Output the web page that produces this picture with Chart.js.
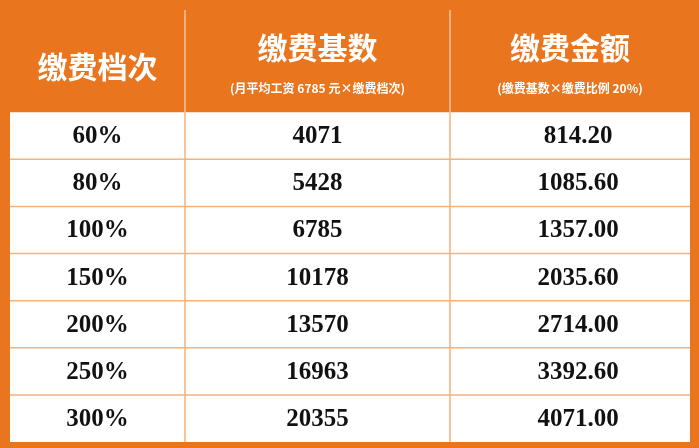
<!DOCTYPE html>
<html><head><meta charset="utf-8">
<script src="https://cdn.jsdelivr.net/npm/chart.js@4/dist/chart.umd.min.js"></script>
<style>html,body{margin:0;padding:0;background:#fff}#c{display:block}</style>
</head><body>
<canvas id="c" width="699" height="448"></canvas>
<script>
var headers = ['缴费档次', '缴费基数', '缴费金额'];
var subHeaders = ['', '(月平均工资 6785 元×缴费档次)', '(缴费基数×缴费比例 20%)'];
var levels = ['60%', '80%', '100%', '150%', '200%', '250%', '300%'];
var bases = ['4071', '5428', '6785', '10178', '13570', '16963', '20355'];
var amounts = ['814.20', '1085.60', '1357.00', '2035.60', '2714.00', '3392.60', '4071.00'];

// table geometry in scale units
var colEdges = [0, 175, 440, 680];
var headerH = 102, rowH = 47;
var orange = '#E9761F';

var tablePlugin = {
  id: 'table',
  afterDraw: function(chart) {
    var ctx = chart.ctx, xs = chart.scales.x, ys = chart.scales.y;
    var X = function(v){ return xs.getPixelForValue(v); };
    var Y = function(v){ return ys.getPixelForValue(v); };
    var bottom = headerH + rowH * levels.length;
    ctx.save();
    // outer frame
    ctx.fillStyle = orange;
    ctx.fillRect(0, 0, chart.width, chart.height);
    ctx.fillStyle = '#fff';
    ctx.fillRect(X(0), Y(headerH), X(680) - X(0), Y(bottom) - Y(headerH));
    // grid lines
    ctx.strokeStyle = '#F3B27E';
    ctx.lineWidth = 1.5;
    for (var i = 1; i < levels.length; i++) {
      var y = Y(headerH + rowH * i);
      ctx.beginPath(); ctx.moveTo(X(0), y); ctx.lineTo(X(680), y); ctx.stroke();
    }
    for (var j = 1; j < colEdges.length - 1; j++) {
      ctx.beginPath(); ctx.moveTo(X(colEdges[j]), Y(headerH)); ctx.lineTo(X(colEdges[j]), Y(bottom)); ctx.stroke();
    }
    // header separators
    ctx.strokeStyle = '#F6C39A';
    for (var j = 1; j < colEdges.length - 1; j++) {
      ctx.beginPath(); ctx.moveTo(X(colEdges[j]), Y(0)); ctx.lineTo(X(colEdges[j]), Y(headerH)); ctx.stroke();
    }
    // header text
    ctx.fillStyle = '#fff';
    ctx.textAlign = 'center'; ctx.textBaseline = 'middle';
    for (var j = 0; j < headers.length; j++) {
      var cx = (X(colEdges[j]) + X(colEdges[j + 1])) / 2;
      if (subHeaders[j]) {
        ctx.font = 'bold 30px "Noto Sans CJK SC"';
        ctx.fillText(headers[j], cx, Y(38));
        ctx.font = 'bold 12px "Noto Sans CJK SC"';
        ctx.fillText(subHeaders[j], cx, Y(78));
      } else {
        ctx.font = 'bold 30px "Noto Sans CJK SC"';
        ctx.fillText(headers[j], cx, Y(56));
      }
    }
    // body text
    ctx.fillStyle = '#111';
    ctx.font = 'bold 25px "Liberation Serif"';
    var cols = [levels, bases, amounts];
    for (var i = 0; i < levels.length; i++) {
      var cy = Y(headerH + rowH * i + rowH / 2);
      for (var j = 0; j < cols.length; j++) {
        var cx = (X(colEdges[j]) + X(colEdges[j + 1])) / 2;
        ctx.fillText(cols[j][i], cx + (j === 2 ? 8 : 0), cy + 1);
      }
    }
    ctx.restore();
  }
};

new Chart(document.getElementById('c').getContext('2d'), {
  type: 'scatter',
  data: { datasets: [{ data: [] }] },
  options: {
    responsive: false,
    animation: false,
    layout: { padding: { left: 10, right: 9, top: 10, bottom: 6 } },
    plugins: { legend: { display: false }, tooltip: { enabled: false } },
    scales: {
      x: { type: 'linear', min: 0, max: 680, display: false },
      y: { type: 'linear', min: 0, max: headerH + rowH * levels.length, reverse: true, display: false }
    }
  },
  plugins: [tablePlugin]
});
</script>
</body></html>
